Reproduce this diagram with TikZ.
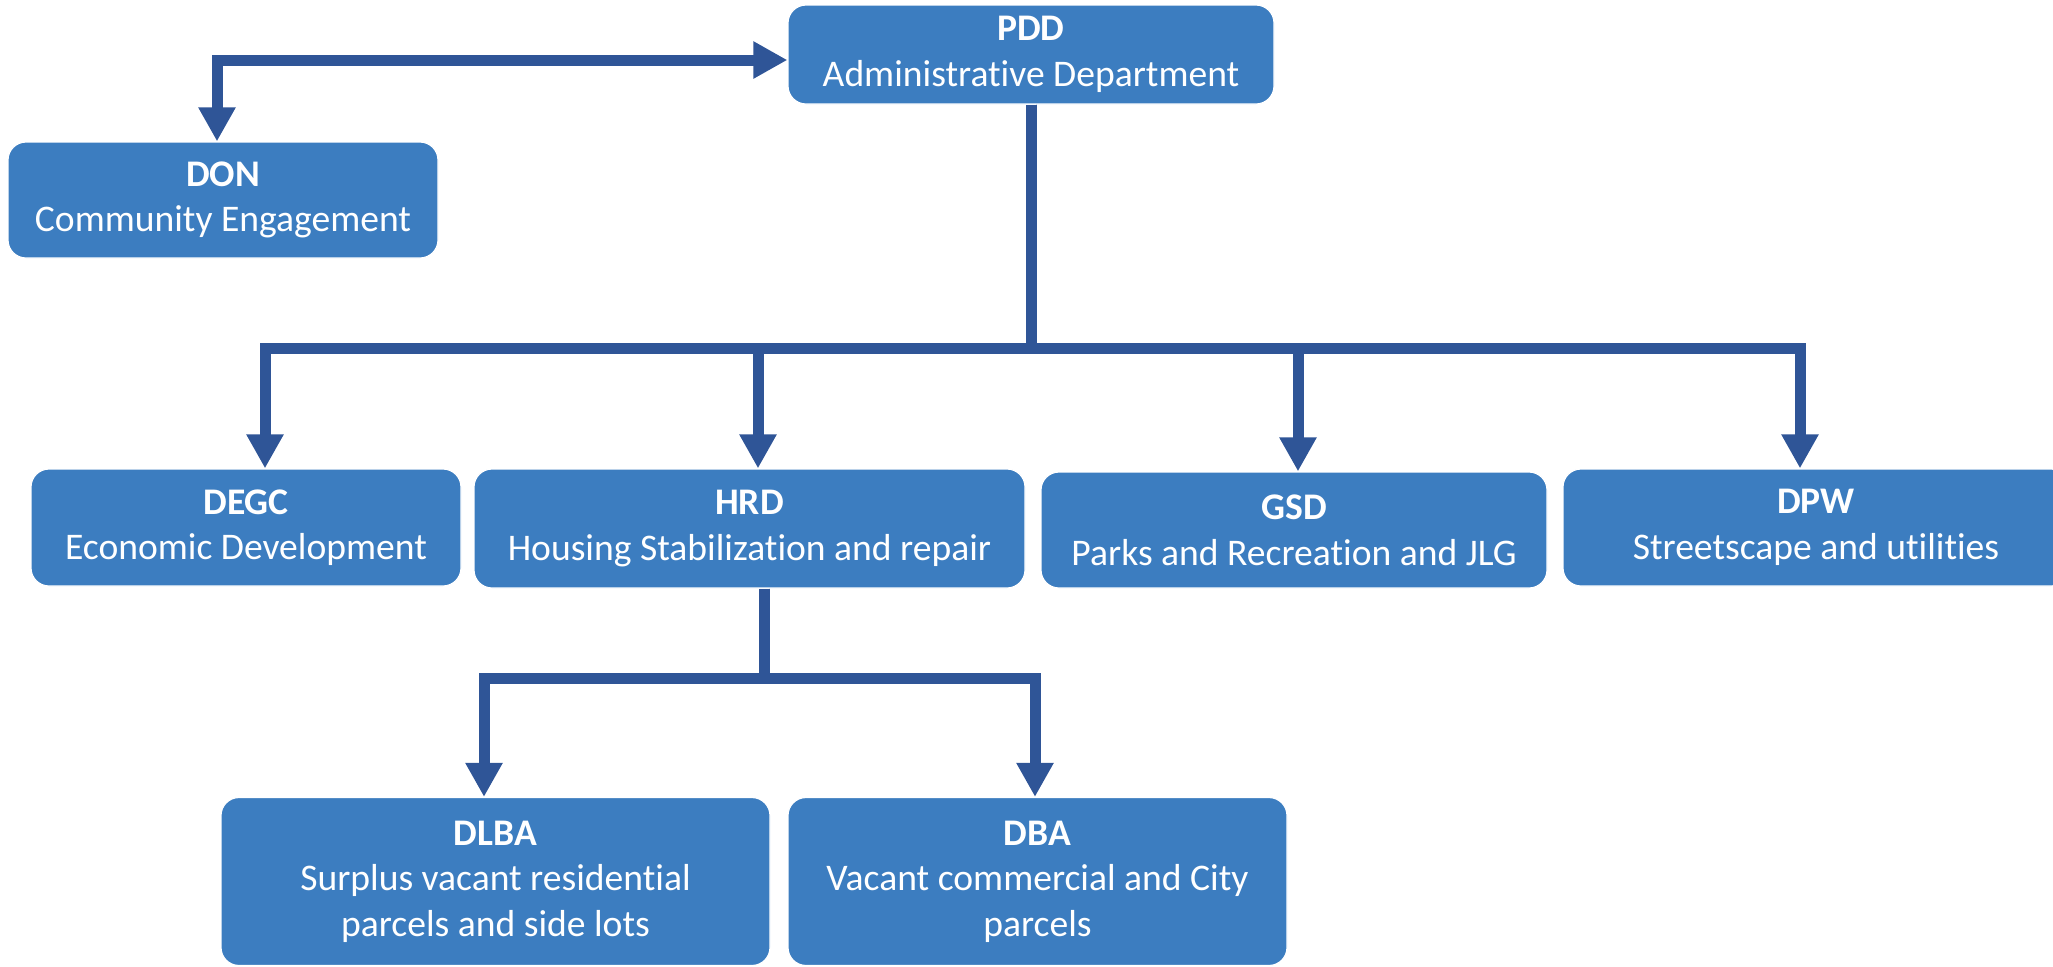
\documentclass[tikz,border=0pt]{standalone}
\usepackage{fontspec}
\setmainfont{Carlito}[Ligatures=NoCommon]
\usetikzlibrary{arrows.meta}
\definecolor{boxblue}{HTML}{3C7DC0}
\definecolor{lineblue}{HTML}{2F5597}

\begin{document}
\begin{tikzpicture}[x=0.5pt,y=-0.5pt]
\tikzset{unit/.style = {shape=rectangle,rounded corners=9pt,fill=boxblue,draw=white,line width=0.6pt,text=white,align=center,inner sep=0pt,font=\fontsize{18.8pt}{22.8pt}\selectfont}}
\tikzset{tree/.style = {draw=lineblue,line width=5.5pt,> = {Triangle[length=17pt,width=17.5pt]}}}
\useasboundingbox (0,0) rectangle (2053,966);
\clip (0,0) rectangle (2053,966);
% top level
\node[unit,minimum width=243pt,minimum height=49.5pt] (pdd) at (1031,54.5) {\textbf{PDD}\\Administrative Department};
\node[unit,minimum width=215pt,minimum height=58pt] (don) at (223,200) {\textbf{DON}\\Community Engagement};
% departments
\node[unit,minimum width=215pt,minimum height=58.5pt] (degc) at (246,527.5) {\textbf{DEGC}\\Economic Development};
\node[unit,minimum width=275.5pt,minimum height=59.5pt] (hrd) at (749.5,528.5) {\textbf{HRD}\\Housing Stabilization and repair};
\node[unit,minimum width=253pt,minimum height=58pt] (gsd) at (1294,530) {\textbf{GSD}\\Parks and Recreation and JLG};
\node[unit,minimum width=253pt,minimum height=58.5pt] (dpw) at (1816,527.5) {\textbf{DPW}\\Streetscape and utilities};
% land banks
\node[unit,minimum width=274.5pt,minimum height=84pt] (dlba) at (495.5,881.5) {\textbf{DLBA}\\Surplus vacant residential\\parcels and side lots};
\node[unit,minimum width=249.5pt,minimum height=84pt] (dba) at (1037.5,881.5) {\textbf{DBA}\\Vacant commercial and City\\parcels};
% connectors
\draw[tree,<->] (don.north -| 217,0) |- (pdd.west |- 0,60);
\draw[tree,->] (pdd.south) |- (265,348) -- (degc.north -| 265,0);
\draw[tree,->] (pdd.south) |- (758,348) -- (hrd.north -| 758,0);
\draw[tree,->] (pdd.south) |- (1298,348) -- (gsd.north -| 1298,0);
\draw[tree,->] (pdd.south) |- (1800,348) -- (dpw.north -| 1800,0);
\draw[tree,->] (hrd.south -| 764,0) |- (484,678) -- (dlba.north -| 484,0);
\draw[tree,->] (hrd.south -| 764,0) |- (1035,678) -- (dba.north -| 1035,0);
\end{tikzpicture}
\end{document}
